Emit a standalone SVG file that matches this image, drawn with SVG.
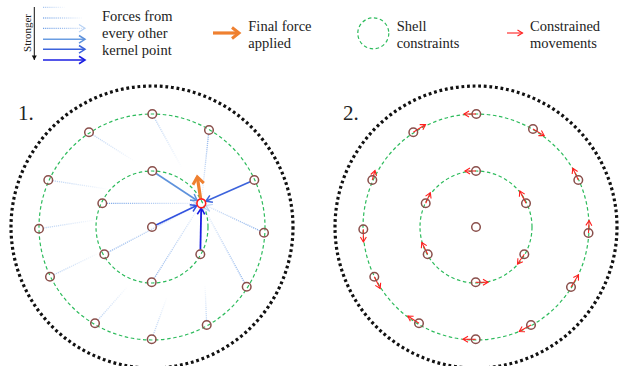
<svg xmlns="http://www.w3.org/2000/svg" width="626" height="366" viewBox="0 0 626 366">
<style>
.t{font-family:"Liberation Serif","DejaVu Serif",serif;font-size:14.5px;fill:#222}
.pl{font-family:"Liberation Serif","DejaVu Serif",serif;font-size:21px;fill:#222}
.node{fill:none;stroke:#8a4f4b;stroke-width:1.5}
.shell{fill:none;stroke:#2dbb5c;stroke-width:1.2;stroke-dasharray:3.5 2.6}
.bound{fill:none;stroke:#111;stroke-width:3.2;stroke-dasharray:2.8 2.8}
.mv{stroke:#ff1f1f;stroke-width:1.1;fill:none;marker-end:url(#mr)}
.fd{fill:none;stroke-width:1.3;stroke-dasharray:1.2 0.9}
</style>
<defs>
<marker id="mr" markerUnits="userSpaceOnUse" overflow="visible" orient="auto" refX="0" refY="0" markerWidth="10" markerHeight="10"><path d="M-5,-3 L0,0 L-5,3" fill="none" stroke="#ff1f1f" stroke-width="1.1"/></marker>
<marker id="mo" markerUnits="userSpaceOnUse" overflow="visible" orient="auto" refX="0" refY="0" markerWidth="10" markerHeight="10"><path d="M-7,-5.5 L0,0 L-7,5.5" fill="none" stroke="#ef8030" stroke-width="3"/></marker>
<marker id="mk" markerUnits="userSpaceOnUse" overflow="visible" orient="auto" refX="0" refY="0" markerWidth="10" markerHeight="10"><path d="M-4.5,-2.5 L0,0 L-4.5,2.5 z" fill="#111"/></marker>
<marker id="b1" markerUnits="userSpaceOnUse" overflow="visible" orient="auto" refX="0" refY="0" markerWidth="10" markerHeight="10"><path d="M-6,-3.8 L0,0 L-6,3.8" fill="none" stroke="#5e92dc" stroke-width="1.5"/></marker>
<marker id="b2" markerUnits="userSpaceOnUse" overflow="visible" orient="auto" refX="0" refY="0" markerWidth="10" markerHeight="10"><path d="M-6,-3.8 L0,0 L-6,3.8" fill="none" stroke="#3c63dc" stroke-width="1.5"/></marker>
<marker id="b3" markerUnits="userSpaceOnUse" overflow="visible" orient="auto" refX="0" refY="0" markerWidth="10" markerHeight="10"><path d="M-6,-3.8 L0,0 L-6,3.8" fill="none" stroke="#3252df" stroke-width="1.5"/></marker>
<marker id="b4" markerUnits="userSpaceOnUse" overflow="visible" orient="auto" refX="0" refY="0" markerWidth="10" markerHeight="10"><path d="M-6,-3.8 L0,0 L-6,3.8" fill="none" stroke="#1a1ee2" stroke-width="1.6"/></marker>
<marker id="bf" markerUnits="userSpaceOnUse" overflow="visible" orient="auto" refX="0" refY="0" markerWidth="10" markerHeight="10"><path d="M-6,-3.8 L0,0 L-6,3.8" fill="none" stroke="#b8d2f4" stroke-width="1.2"/></marker>
<linearGradient id="gL1" gradientUnits="userSpaceOnUse" x1="43" y1="0" x2="66" y2="0"><stop offset="0" stop-color="#8fb6ec" stop-opacity="0.8"/><stop offset="1" stop-color="#8fb6ec" stop-opacity="0"/></linearGradient>
<linearGradient id="gL2" gradientUnits="userSpaceOnUse" x1="43" y1="0" x2="82" y2="0"><stop offset="0" stop-color="#7ba8e8" stop-opacity="0.9"/><stop offset="1" stop-color="#7ba8e8" stop-opacity="0.05"/></linearGradient>
<linearGradient id="gL3" gradientUnits="userSpaceOnUse" x1="43" y1="0" x2="85" y2="0"><stop offset="0" stop-color="#6f9fe6" stop-opacity="1"/><stop offset="1" stop-color="#6f9fe6" stop-opacity="0.25"/></linearGradient>
<linearGradient id="ga" gradientUnits="userSpaceOnUse" x1="106.8" y1="203.3" x2="196.3" y2="203.3"><stop offset="0" stop-color="#6f9fe6" stop-opacity="0.9"/><stop offset="1" stop-color="#6f9fe6" stop-opacity="0.15"/></linearGradient>
<linearGradient id="gb" gradientUnits="userSpaceOnUse" x1="108.3" y1="252.2" x2="196.9" y2="205.6"><stop offset="0" stop-color="#6f9fe6" stop-opacity="0.75"/><stop offset="1" stop-color="#6f9fe6" stop-opacity="0.05"/></linearGradient>
<linearGradient id="gc" gradientUnits="userSpaceOnUse" x1="154.1" y1="278.5" x2="198.6" y2="207.5"><stop offset="0" stop-color="#6f9fe6" stop-opacity="0.75"/><stop offset="1" stop-color="#6f9fe6" stop-opacity="0.1"/></linearGradient>
<linearGradient id="gd" gradientUnits="userSpaceOnUse" x1="259.9" y1="230.8" x2="205.8" y2="205.4"><stop offset="0" stop-color="#6f9fe6" stop-opacity="0.85"/><stop offset="1" stop-color="#6f9fe6" stop-opacity="0.2"/></linearGradient>
<linearGradient id="ge" gradientUnits="userSpaceOnUse" x1="244.5" y1="282.7" x2="203.7" y2="207.7"><stop offset="0" stop-color="#6f9fe6" stop-opacity="0.8"/><stop offset="1" stop-color="#6f9fe6" stop-opacity="0.1"/></linearGradient>
<linearGradient id="gf" gradientUnits="userSpaceOnUse" x1="208.5" y1="134.5" x2="201.8" y2="198.3"><stop offset="0" stop-color="#6f9fe6" stop-opacity="0.8"/><stop offset="1" stop-color="#6f9fe6" stop-opacity="0.05"/></linearGradient>
<linearGradient id="gg" gradientUnits="userSpaceOnUse" x1="154.5" y1="118" x2="182" y2="168"><stop offset="0" stop-color="#8ab3ea" stop-opacity="0.6"/><stop offset="1" stop-color="#8ab3ea" stop-opacity="0"/></linearGradient>
<linearGradient id="gh" gradientUnits="userSpaceOnUse" x1="92.8" y1="134.7" x2="135" y2="161.5"><stop offset="0" stop-color="#8ab3ea" stop-opacity="0.6"/><stop offset="1" stop-color="#8ab3ea" stop-opacity="0"/></linearGradient>
<linearGradient id="gi" gradientUnits="userSpaceOnUse" x1="52.7" y1="180.7" x2="110" y2="189.5"><stop offset="0" stop-color="#8ab3ea" stop-opacity="0.6"/><stop offset="1" stop-color="#8ab3ea" stop-opacity="0"/></linearGradient>
<linearGradient id="gj" gradientUnits="userSpaceOnUse" x1="43.5" y1="228" x2="98" y2="219.5"><stop offset="0" stop-color="#8ab3ea" stop-opacity="0.6"/><stop offset="1" stop-color="#8ab3ea" stop-opacity="0"/></linearGradient>
<linearGradient id="gk" gradientUnits="userSpaceOnUse" x1="54" y1="274.7" x2="100" y2="252.5"><stop offset="0" stop-color="#8ab3ea" stop-opacity="0.6"/><stop offset="1" stop-color="#8ab3ea" stop-opacity="0"/></linearGradient>
<linearGradient id="gl" gradientUnits="userSpaceOnUse" x1="98" y1="320" x2="128" y2="286"><stop offset="0" stop-color="#8ab3ea" stop-opacity="0.6"/><stop offset="1" stop-color="#8ab3ea" stop-opacity="0"/></linearGradient>
<linearGradient id="gm" gradientUnits="userSpaceOnUse" x1="153.2" y1="335" x2="167" y2="297"><stop offset="0" stop-color="#8ab3ea" stop-opacity="0.6"/><stop offset="1" stop-color="#8ab3ea" stop-opacity="0"/></linearGradient>
<linearGradient id="gn" gradientUnits="userSpaceOnUse" x1="206.5" y1="320.5" x2="205" y2="284"><stop offset="0" stop-color="#8ab3ea" stop-opacity="0.6"/><stop offset="1" stop-color="#8ab3ea" stop-opacity="0"/></linearGradient>
</defs>
<rect width="626" height="366" fill="#fff"/>

<g id="legend">
<g id="legend-forces">
<line x1="34.3" y1="7" x2="34.3" y2="60" stroke="#111" stroke-width="1" marker-end="url(#mk)"/>
<text class="t" style="font-size:11px" transform="translate(30.5,33) rotate(-90)" text-anchor="middle">Stronger</text>
<line class="fd" x1="43" y1="7.3" x2="66" y2="7.3" stroke="url(#gL1)"/>
<line class="fd" x1="43" y1="18" x2="82" y2="18" stroke="url(#gL2)"/>
<line class="fd" x1="43" y1="28.3" x2="85" y2="28.3" stroke="url(#gL3)" marker-end="url(#bf)"/>
<line x1="43" y1="39.3" x2="85" y2="39.3" stroke="#6a9de2" stroke-width="1.5" marker-end="url(#b1)"/>
<line x1="43" y1="49.3" x2="85" y2="49.3" stroke="#3c63dc" stroke-width="1.5" marker-end="url(#b2)"/>
<line x1="43" y1="60" x2="85" y2="60" stroke="#1a1ee2" stroke-width="1.6" marker-end="url(#b4)"/>
<text class="t" x="102" y="21">Forces from</text>
<text class="t" x="102" y="38">every other</text>
<text class="t" x="102" y="55">kernel point</text>
</g>
<g id="legend-final">
<line x1="213" y1="33" x2="239" y2="33" stroke="#ef8030" stroke-width="3.2" marker-end="url(#mo)"/>
<text class="t" x="248.3" y="31">Final force</text>
<text class="t" x="248.3" y="48">applied</text>
</g>
<g id="legend-shell">
<circle class="shell" cx="373.3" cy="33.3" r="15.5"/>
<text class="t" x="396.7" y="31">Shell</text>
<text class="t" x="396.7" y="48">constraints</text>
</g>
<g id="legend-move">
<line class="mv" x1="507" y1="33" x2="522.5" y2="33"/>
<text class="t" x="530" y="31">Constrained</text>
<text class="t" x="530" y="48">movements</text>
</g>
</g>

<g id="panel1">
<text class="pl" x="18" y="120">1.</text>
<circle class="bound" cx="152" cy="227" r="141"/>
<circle class="shell" cx="152" cy="227" r="113"/>
<circle class="shell" cx="152" cy="227" r="56"/>
</g>
<g id="panel2">
<text class="pl" x="343" y="120">2.</text>
<circle class="bound" cx="476" cy="227" r="141"/>
<circle class="shell" cx="476" cy="227" r="113"/>
<circle class="shell" cx="476" cy="227" r="56"/>
</g>

<g id="connectors">
<g id="forces">
<line class="fd" x1="154.5" y1="118" x2="182" y2="168" stroke="url(#gg)"/>
<line class="fd" x1="92.8" y1="134.7" x2="135" y2="161.5" stroke="url(#gh)"/>
<line class="fd" x1="52.7" y1="180.7" x2="110" y2="189.5" stroke="url(#gi)"/>
<line class="fd" x1="43.5" y1="228" x2="98" y2="219.5" stroke="url(#gj)"/>
<line class="fd" x1="54" y1="274.7" x2="100" y2="252.5" stroke="url(#gk)"/>
<line class="fd" x1="98" y1="320" x2="128" y2="286" stroke="url(#gl)"/>
<line class="fd" x1="153.2" y1="335" x2="167" y2="297" stroke="url(#gm)"/>
<line class="fd" x1="206.5" y1="320.5" x2="205" y2="284" stroke="url(#gn)"/>
<line class="fd" x1="106.8" y1="203.3" x2="196.3" y2="203.3" stroke="url(#ga)" marker-end="url(#bf)"/>
<line class="fd" x1="108.3" y1="252.2" x2="196.9" y2="205.6" stroke="url(#gb)"/>
<line class="fd" x1="154.1" y1="278.5" x2="198.6" y2="207.5" stroke="url(#gc)"/>
<line class="fd" x1="259.9" y1="230.8" x2="205.8" y2="205.4" stroke="url(#gd)" marker-end="url(#bf)"/>
<line class="fd" x1="244.5" y1="282.7" x2="203.7" y2="207.7" stroke="url(#ge)" marker-end="url(#bf)"/>
<line class="fd" x1="208.5" y1="134.5" x2="201.8" y2="198.3" stroke="url(#gf)"/>
<line x1="156.1" y1="173.5" x2="197.1" y2="200.5" stroke="#5e92dc" stroke-width="1.6" marker-end="url(#b1)"/>
<line x1="250.2" y1="181.8" x2="205.9" y2="201.3" stroke="#3c63dc" stroke-width="1.6" marker-end="url(#b2)"/>
<line x1="156.1" y1="225" x2="196.8" y2="205.5" stroke="#3252df" stroke-width="1.6" marker-end="url(#b3)"/>
<line x1="200.4" y1="249.8" x2="201.2" y2="208.3" stroke="#1a1ee2" stroke-width="1.8" marker-end="url(#b4)"/>
<line x1="200.6" y1="198.5" x2="197.3" y2="177" stroke="#ef8030" stroke-width="3.2" marker-end="url(#mo)"/>
</g>
<g id="movements">
<line class="mv" x1="476" y1="114" x2="464" y2="114"/>
<line class="mv" x1="533" y1="129" x2="544.2" y2="135.6"/>
<line class="mv" x1="578.3" y1="180" x2="572.8" y2="168.2"/>
<line class="mv" x1="588.5" y1="233" x2="589.1" y2="220.5"/>
<line class="mv" x1="571" y1="287" x2="578.5" y2="274.8"/>
<line class="mv" x1="531" y1="325" x2="519.2" y2="331.6"/>
<line class="mv" x1="475.7" y1="339.3" x2="463" y2="339.3"/>
<line class="mv" x1="419" y1="323.3" x2="407.8" y2="316"/>
<line class="mv" x1="374.3" y1="276.7" x2="380.2" y2="288.5"/>
<line class="mv" x1="363.3" y1="229.3" x2="363.4" y2="242"/>
<line class="mv" x1="372.3" y1="180" x2="375" y2="170.5"/>
<line class="mv" x1="413.3" y1="132.3" x2="425.5" y2="124.5"/>
<line class="mv" x1="476" y1="171" x2="465" y2="171"/>
<line class="mv" x1="425.7" y1="203.3" x2="430.3" y2="192.7"/>
<line class="mv" x1="427.7" y1="254.3" x2="421.8" y2="242.5"/>
<line class="mv" x1="475.7" y1="282.3" x2="488" y2="282.3"/>
<line class="mv" x1="524.3" y1="254.3" x2="517.5" y2="264"/>
<line class="mv" x1="526" y1="203.3" x2="519.8" y2="191"/>
</g>
</g>

<g id="nodes1">
<g id="n1-o1"><circle class="node" cx="152.3" cy="114" r="4.3"/></g>
<g id="n1-o2"><circle class="node" cx="209" cy="130" r="4.3"/></g>
<g id="n1-o3"><circle class="node" cx="254.3" cy="180" r="4.3"/></g>
<g id="n1-o4"><circle class="node" cx="264" cy="232.7" r="4.3"/></g>
<g id="n1-o5"><circle class="node" cx="246.7" cy="286.7" r="4.3"/></g>
<g id="n1-o6"><circle class="node" cx="206.7" cy="325" r="4.3"/></g>
<g id="n1-o7"><circle class="node" cx="151.7" cy="339.3" r="4.3"/></g>
<g id="n1-o8"><circle class="node" cx="95" cy="323.3" r="4.3"/></g>
<g id="n1-o9"><circle class="node" cx="50" cy="276.7" r="4.3"/></g>
<g id="n1-o10"><circle class="node" cx="39" cy="228.7" r="4.3"/></g>
<g id="n1-o11"><circle class="node" cx="48.3" cy="180" r="4.3"/></g>
<g id="n1-o12"><circle class="node" cx="89" cy="132.3" r="4.3"/></g>
<g id="n1-i1"><circle class="node" cx="152.3" cy="171" r="4.3"/></g>
<g id="n1-i2"><circle class="node" cx="102.3" cy="203.3" r="4.3"/></g>
<g id="n1-i3"><circle class="node" cx="104.3" cy="254.3" r="4.3"/></g>
<g id="n1-i4"><circle class="node" cx="151.7" cy="282.3" r="4.3"/></g>
<g id="n1-i5"><circle class="node" cx="200.3" cy="254.3" r="4.3"/></g>
<g id="n1-target"><circle cx="201.3" cy="203.3" r="4.4" fill="none" stroke="#ff1a1a" stroke-width="1.6"/></g>
<g id="n1-c"><circle class="node" cx="152" cy="227" r="4.3"/></g>
</g>
<g id="nodes2">
<g id="n2-o1"><circle class="node" cx="476.3" cy="114" r="4.3"/></g>
<g id="n2-o2"><circle class="node" cx="533" cy="129" r="4.3"/></g>
<g id="n2-o3"><circle class="node" cx="578.3" cy="180" r="4.3"/></g>
<g id="n2-o4"><circle class="node" cx="588.5" cy="233" r="4.3"/></g>
<g id="n2-o5"><circle class="node" cx="571" cy="287" r="4.3"/></g>
<g id="n2-o6"><circle class="node" cx="531" cy="325" r="4.3"/></g>
<g id="n2-o7"><circle class="node" cx="475.7" cy="339.3" r="4.3"/></g>
<g id="n2-o8"><circle class="node" cx="419" cy="323.3" r="4.3"/></g>
<g id="n2-o9"><circle class="node" cx="374.3" cy="276.7" r="4.3"/></g>
<g id="n2-o10"><circle class="node" cx="363.3" cy="229.3" r="4.3"/></g>
<g id="n2-o11"><circle class="node" cx="372.3" cy="180" r="4.3"/></g>
<g id="n2-o12"><circle class="node" cx="413.3" cy="132.3" r="4.3"/></g>
<g id="n2-i1"><circle class="node" cx="476" cy="171" r="4.3"/></g>
<g id="n2-i2"><circle class="node" cx="425.7" cy="203.3" r="4.3"/></g>
<g id="n2-i3"><circle class="node" cx="427.7" cy="254.3" r="4.3"/></g>
<g id="n2-i4"><circle class="node" cx="475.7" cy="282.3" r="4.3"/></g>
<g id="n2-i5"><circle class="node" cx="524.3" cy="254.3" r="4.3"/></g>
<g id="n2-i6"><circle class="node" cx="526" cy="203.3" r="4.3"/></g>
<g id="n2-c"><circle class="node" cx="476" cy="227" r="4.3"/></g>
</g>
</svg>
